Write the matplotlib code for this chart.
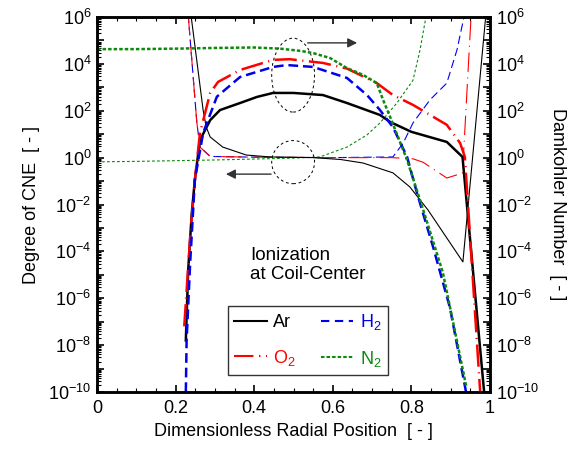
import numpy as np
import matplotlib
matplotlib.use("Agg")
from matplotlib import pyplot as plt
from matplotlib.lines import Line2D
from matplotlib.patches import Ellipse
from matplotlib.ticker import LogLocator, FuncFormatter, MultipleLocator, NullFormatter

plt.rcParams['font.family'] = ['Liberation Sans', 'DejaVu Sans']
plt.rcParams['mathtext.default'] = 'regular'
plt.rcParams['lines.scale_dashes'] = False

# Damkohler number (thick lines), values as log10
x_ar_da = [0.226, 0.232, 0.241, 0.249, 0.262, 0.288, 0.313, 0.364, 0.407, 0.448, 0.50, 0.575, 0.636, 0.72, 0.746, 0.80, 0.89, 0.93, 0.985]
y_ar_da = [-7.8, -4.8, -2.4, -0.95, 0.75, 1.6, 2.03, 2.33, 2.59, 2.76, 2.76, 2.67, 2.33, 1.82, 1.52, 1.1, 0.67, 0.03, -10.0]

x_o2_da = [0.222, 0.237, 0.249, 0.262, 0.288, 0.308, 0.364, 0.448, 0.49, 0.575, 0.636, 0.712, 0.753, 0.804, 0.89, 0.924, 0.936, 0.975]
y_o2_da = [-7.2, -3.4, -0.95, 1.05, 2.76, 3.23, 3.74, 4.17, 4.2, 4.04, 3.8, 3.18, 2.67, 2.25, 1.4, 0.62, 0.03, -10.0]

x_h2_da = [0.226, 0.228, 0.237, 0.249, 0.27, 0.305, 0.364, 0.448, 0.483, 0.55, 0.636, 0.687, 0.72, 0.753, 0.789, 0.814, 0.855, 0.898, 0.939]
y_h2_da = [-10.0, -7.8, -4.5, -0.95, 1.05, 2.6, 3.44, 3.87, 3.95, 3.87, 3.4, 2.67, 2.03, 1.3, 0.03, -1.5, -3.8, -6.4, -10.0]

x_n2_da = [0.0, 0.1, 0.2, 0.3, 0.4, 0.466, 0.52, 0.55, 0.593, 0.636, 0.677, 0.712, 0.728, 0.746, 0.789, 0.83, 0.88, 0.94]
y_n2_da = [4.63, 4.63, 4.65, 4.68, 4.7, 4.65, 4.55, 4.46, 4.25, 3.82, 3.53, 3.18, 2.46, 1.73, -0.1, -2.23, -4.9, -9.8]

# Degree of CNE (thin lines), values as log10
x_ar_cne = [0.239, 0.27, 0.278, 0.288, 0.32, 0.38, 0.44, 0.55, 0.62, 0.677, 0.753, 0.796, 0.842, 0.931, 0.99]
y_ar_cne = [6.1, 2.03, 1.3, 0.88, 0.45, 0.11, 0.03, 0.0, -0.08, -0.23, -0.65, -1.25, -2.23, -4.45, 6.2]

x_o2_cne = [0.232, 0.254, 0.262, 0.288, 0.4, 0.6, 0.75, 0.804, 0.83, 0.89, 0.93, 0.952]
y_o2_cne = [6.1, 1.5, 0.45, 0.05, 0.02, 0.0, 0.0, -0.05, -0.2, -0.87, -0.66, 6.1]

x_h2_cne = [0.232, 0.254, 0.262, 0.288, 0.4, 0.6, 0.753, 0.779, 0.804, 0.847, 0.89, 0.916, 0.935]
y_h2_cne = [6.1, 1.5, 0.45, 0.05, 0.02, 0.0, 0.03, 0.62, 1.48, 2.46, 3.18, 4.6, 6.1]

x_n2_cne = [0.0, 0.1, 0.2, 0.3, 0.4, 0.5, 0.567, 0.636, 0.687, 0.72, 0.763, 0.804, 0.822, 0.838]
y_n2_cne = [-0.18, -0.16, -0.13, -0.1, -0.06, -0.02, 0.03, 0.45, 0.97, 1.48, 2.33, 3.3, 4.6, 6.1]

vermelho = '#ff0000'
azul = '#0000ee'
verde = '#0b8a0b'

fig = plt.figure(figsize=(5.75, 4.5), dpi=100)
ax = fig.add_axes([0.1687, 0.1289, 0.6835, 0.8333])
ax2 = ax.twinx()

# thin: degree of CNE (left axis)
ax.plot(x_n2_cne, 10.0 ** np.array(y_n2_cne), color=verde, lw=0.8, dashes=(2, 1.6))
ax.plot(x_h2_cne, 10.0 ** np.array(y_h2_cne), color=azul, lw=0.8, dashes=(6, 3))
ax.plot(x_o2_cne, 10.0 ** np.array(y_o2_cne), color=vermelho, lw=0.8, dashes=(14, 4, 0.8, 4))
ax.plot(x_ar_cne, 10.0 ** np.array(y_ar_cne), color='black', lw=0.8)

# thick: Damkohler number (right axis)
ax2.plot(x_ar_da, 10.0 ** np.array(y_ar_da), color='black', lw=1.8)
ax2.plot(x_o2_da, 10.0 ** np.array(y_o2_da), color=vermelho, lw=1.8, dashes=(16, 4, 0.8, 4))
ax2.plot(x_h2_da, 10.0 ** np.array(y_h2_da), color=azul, lw=1.8, dashes=(7, 3.5))
ax2.plot(x_n2_da, 10.0 ** np.array(y_n2_da), color=verde, lw=1.8, dashes=(2.5, 1.5))

def fmt(v, pos):
    e = int(round(np.log10(v)))
    if e % 2 != 0:
        return ''
    return '$10^{%d}$' % e

for a in (ax, ax2):
    a.set_yscale('log')
    a.set_ylim(1e-10, 1e6)
    a.yaxis.set_major_locator(LogLocator(base=10, numticks=30))
    a.yaxis.set_minor_locator(LogLocator(base=10, subs=np.arange(2, 10), numticks=30))
    a.yaxis.set_major_formatter(FuncFormatter(fmt))
    a.yaxis.set_minor_formatter(NullFormatter())
    a.tick_params(axis='both', which='major', direction='in', length=5, width=1.2, labelsize=13)
    a.tick_params(axis='both', which='minor', direction='in', length=3, width=0.8)
    for s in a.spines.values():
        s.set_linewidth(1.8)

ax.set_xlim(0, 1)
ax.xaxis.set_major_locator(MultipleLocator(0.2))
ax.xaxis.set_minor_locator(MultipleLocator(0.05))
ax.xaxis.set_major_formatter(FuncFormatter(lambda v, p: '%g' % round(v, 2)))
ax.tick_params(axis='x', which='both', top=True, pad=6)
ax.tick_params(axis='y', which='both', pad=4)
ax2.tick_params(axis='y', which='both', pad=4)

ax.set_xlabel('Dimensionless Radial Position  [ - ]', fontsize=13, labelpad=4)
ax.set_ylabel('Degree of CNE  [ - ]', fontsize=13, labelpad=6)
ax2.set_ylabel('Damkohler Number  [ - ]', fontsize=13, rotation=270, labelpad=20)

# annotations
ax.add_patch(Ellipse((0.499, 0.845), 0.109, 0.197, transform=ax.transAxes, fill=False,
                     ls=(0, (2, 2)), lw=0.7, color='black'))
ax.add_patch(Ellipse((0.499, 0.613), 0.109, 0.115, transform=ax.transAxes, fill=False,
                     ls=(0, (2, 2)), lw=0.7, color='black'))
ax.annotate('', xy=(0.669, 0.931), xytext=(0.529, 0.931), xycoords='axes fraction',
            arrowprops=dict(arrowstyle='-|>', color='#333333', lw=1.0, mutation_scale=14))
ax.annotate('', xy=(0.321, 0.581), xytext=(0.450, 0.581), xycoords='axes fraction',
            arrowprops=dict(arrowstyle='-|>', color='#333333', lw=1.0, mutation_scale=14))

ax.text(0.389, 0.339, 'Ionization\nat Coil-Center', transform=ax.transAxes,
        ha='left', va='center', fontsize=13.5, linespacing=1.15)

handles = [
    Line2D([], [], color='black', lw=1.5),
    Line2D([], [], color=vermelho, lw=1.5, dashes=(14, 4, 1, 4)),
    Line2D([], [], color=azul, lw=1.5, dashes=(6, 4)),
    Line2D([], [], color=verde, lw=1.5, dashes=(2.5, 1.5)),
]
labels = ['Ar', 'O$_2$', 'H$_2$', 'N$_2$']
leg = ax2.legend(handles, labels, ncol=2, loc='upper left', bbox_to_anchor=(0.31, 0.253),
                 fontsize=13, frameon=True, fancybox=False, edgecolor='black',
                 handlelength=1.8, handletextpad=0.35, columnspacing=1.4,
                 labelspacing=0.9, borderpad=0.35, labelcolor='linecolor')
leg.get_frame().set_linewidth(1.0)

fig.savefig('out.png', dpi=100)
